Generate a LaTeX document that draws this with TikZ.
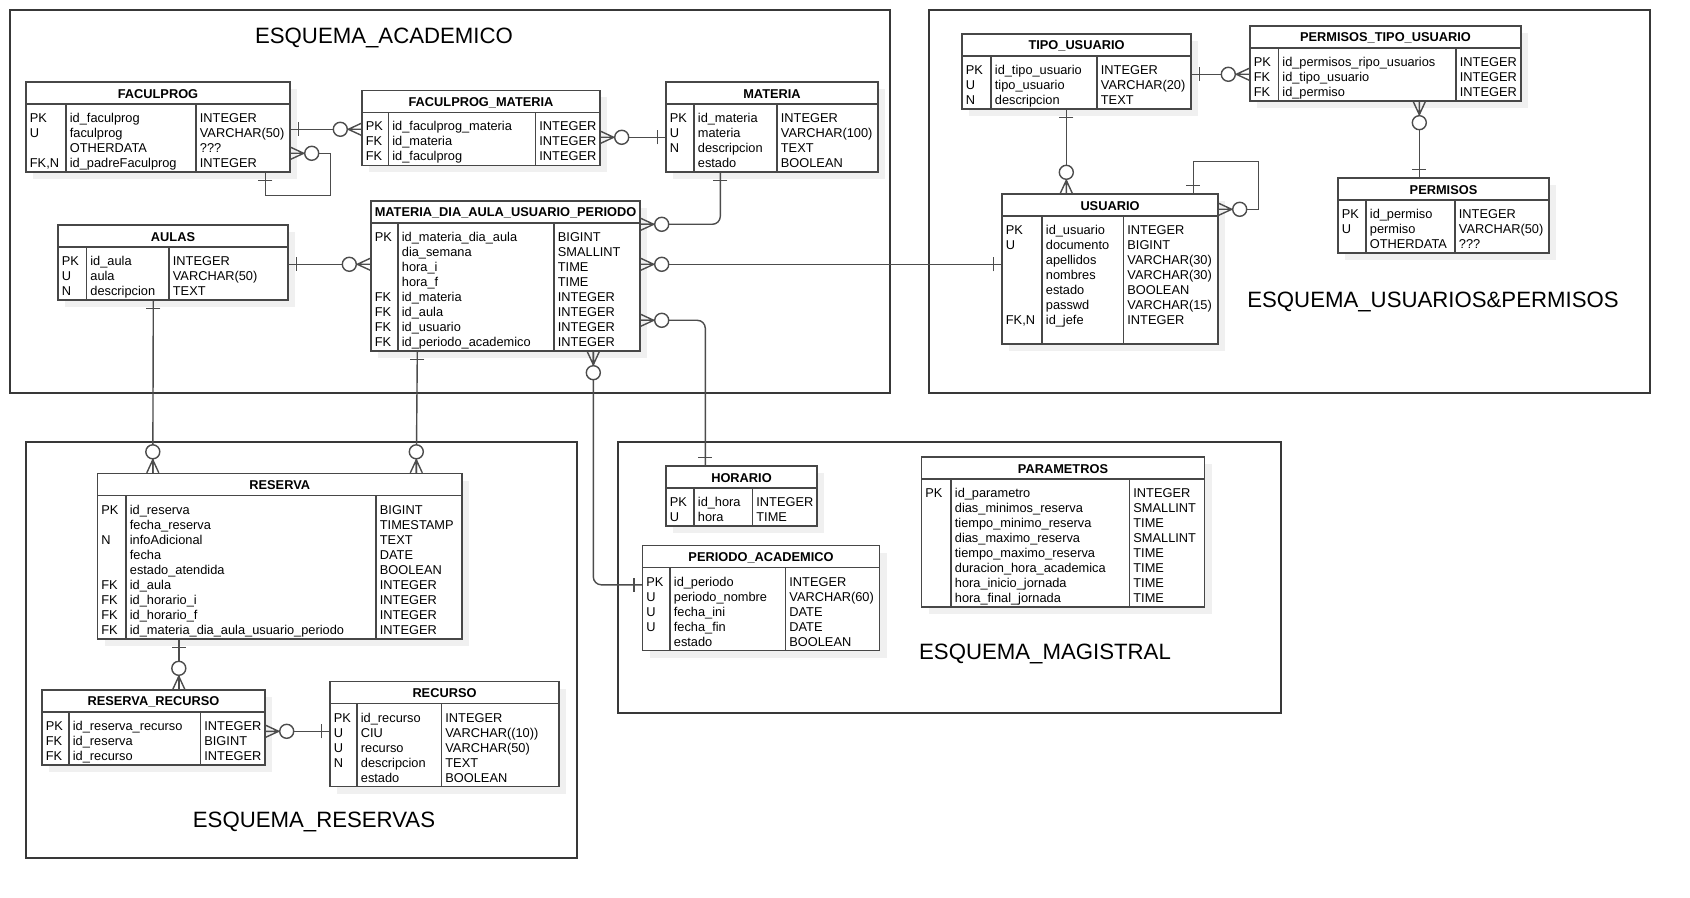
\documentclass[tikz,border=0pt]{standalone}
\usepackage{fontspec}
\setmainfont{Liberation Sans}
\usetikzlibrary{calc,fit}

\tikzset{
  ln/.style={draw=black!72, line width=0.7pt},
  conn/.style={draw=black!70, line width=0.7pt},
  frame/.style={draw=black!78, line width=0.65pt},
  cell/.style={anchor=base west, inner sep=0, font=\fontsize{6.4}{7.5}\selectfont},
  ttl/.style={inner sep=0, font=\fontsize{6.4}{7.5}\selectfont\bfseries},
  schema/.style={inner sep=0, font=\fontsize{11.1}{13}\selectfont},
}

% table: name, left, top, right, bottom, first column rule, second column rule, title
\newcommand\entity[8]{%
  \fill[black!6] (#2+7,#3+7) rectangle (#4+7,#5+7);
  \node[ln, fill=white, inner sep=0, fit={(#2,#3) (#4,#5)}] (#1) {};
  \draw[ln] (#2,#3+22) -- (#4,#3+22) (#6,#3+22) -- (#6,#5) (#7,#3+22) -- (#7,#5);
  \node[ttl] at ({(#2+#4)/2},#3+12) {#8};
}
% rows: left, first column rule, second column rule, top, list key/name/type
\newcommand\rows[5]{%
  \foreach \ka/\nm/\ty [count=\i from 0] in {#5} {
    \node[cell] at (#1+3.5, #4+40.5+\i*15) {\ka};
    \node[cell] at (#2+3.5, #4+40.5+\i*15) {\nm};
    \node[cell] at (#3+3.5, #4+40.5+\i*15) {\ty};
  }%
}
% crow's foot ends: point, outward angle
\newcommand\tone[2]{\draw[conn,shift={(#1)},rotate=#2] (8,-7) -- (8,7);}
\newcommand\tmany[2]{%
  \draw[conn,shift={(#1)},rotate=#2] (0,-6) -- (13,0) -- (0,6) (0,0) -- (13,0);
  \draw[conn,fill=white,shift={(#1)},rotate=#2] (21,0) circle[radius=7];}

\begin{document}
\begin{tikzpicture}[x=0.5pt,y=-0.5pt]
\useasboundingbox (0,0) rectangle (1690,898);

% schema frames
\draw[frame] (10,10) rectangle (890,393);
\draw[frame] (929,10) rectangle (1650,393);
\draw[frame] (26,442) rectangle (577,858);
\draw[frame] (618,442) rectangle (1281,713);
\node[schema] at (384,38) {ESQUEMA\_ACADEMICO};
\node[schema] at (1433,302) {ESQUEMA\_USUARIOS\&PERMISOS};
\node[schema] at (314,822) {ESQUEMA\_RESERVAS};
\node[schema] at (1045,654) {ESQUEMA\_MAGISTRAL};

% tables
\entity{fp}{26}{82}{290}{172}{66}{196}{FACULPROG}
\rows{26}{66}{196}{82}{PK/id\_faculprog/INTEGER, U/faculprog/VARCHAR(50), {}/OTHERDATA/???, {FK,N}/id\_padreFaculprog/INTEGER}

\entity{fpm}{362}{90.5}{600}{165.5}{388.5}{535.5}{FACULPROG\_MATERIA}
\rows{362}{388.5}{535.5}{90.5}{PK/id\_faculprog\_materia/INTEGER, FK/id\_materia/INTEGER, FK/id\_faculprog/INTEGER}

\entity{mat}{666}{82}{878}{172}{694}{777}{MATERIA}
\rows{666}{694}{777}{82}{PK/id\_materia/INTEGER, U/materia/VARCHAR(100), N/descripcion/TEXT, {}/estado/BOOLEAN}

\entity{au}{58}{225}{288}{300}{86.5}{169}{AULAS}
\rows{58}{86.5}{169}{225}{PK/id\_aula/INTEGER, U/aula/VARCHAR(50), N/descripcion/TEXT}

\entity{md}{371}{201}{640}{351}{398}{554}{MATERIA\_DIA\_AULA\_USUARIO\_PERIODO}
\rows{371}{398}{554}{201}{PK/id\_materia\_dia\_aula/BIGINT, {}/dia\_semana/SMALLINT, {}/hora\_i/TIME, {}/hora\_f/TIME, FK/id\_materia/INTEGER, FK/id\_aula/INTEGER, FK/id\_usuario/INTEGER, FK/id\_periodo\_academico/INTEGER}

\entity{tu}{962}{34}{1191}{109}{991}{1097}{TIPO\_USUARIO}
\rows{962}{991}{1097}{34}{PK/id\_tipo\_usuario/INTEGER, U/tipo\_usuario/VARCHAR(20), N/descripcion/TEXT}

\entity{ptu}{1250}{26}{1521}{101}{1278.5}{1456}{PERMISOS\_TIPO\_USUARIO}
\rows{1250}{1278.5}{1456}{26}{PK/id\_permisos\_ripo\_usuarios/INTEGER, FK/id\_tipo\_usuario/INTEGER, FK/id\_permiso/INTEGER}

\entity{perm}{1338}{178}{1549}{253}{1366}{1455}{PERMISOS}
\rows{1338}{1366}{1455}{178}{PK/id\_permiso/INTEGER, U/permiso/VARCHAR(50), {}/OTHERDATA/???}

\entity{usu}{1002}{194}{1218}{344}{1042}{1123.5}{USUARIO}
\rows{1002}{1042}{1123.5}{194}{PK/id\_usuario/INTEGER, U/documento/BIGINT, {}/apellidos/VARCHAR(30), {}/nombres/VARCHAR(30), {}/estado/BOOLEAN, {}/passwd/VARCHAR(15), {FK,N}/id\_jefe/INTEGER}

\entity{res}{97.5}{473.5}{462}{639}{126}{376}{RESERVA}
\rows{97.5}{126}{376}{473.5}{PK/id\_reserva/BIGINT, {}/fecha\_reserva/TIMESTAMP, N/infoAdicional/TEXT, {}/fecha/DATE, {}/estado\_atendida/BOOLEAN, FK/id\_aula/INTEGER, FK/id\_horario\_i/INTEGER, FK/id\_horario\_f/INTEGER, FK/id\_materia\_dia\_aula\_usuario\_periodo/INTEGER}

\entity{rr}{42}{690}{265}{765}{69}{200.5}{RESERVA\_RECURSO}
\rows{42}{69}{200.5}{690}{PK/id\_reserva\_recurso/INTEGER, FK/id\_reserva/BIGINT, FK/id\_recurso/INTEGER}

\entity{rec}{330}{681.5}{559}{786.5}{357}{441.5}{RECURSO}
\rows{330}{357}{441.5}{681.5}{PK/id\_recurso/INTEGER, U/CIU/VARCHAR((10)), U/recurso/VARCHAR(50), N/descripcion/TEXT, {}/estado/BOOLEAN}

\entity{hor}{666}{466}{817}{526}{694}{752.5}{HORARIO}
\rows{666}{694}{752.5}{466}{PK/id\_hora/INTEGER, U/hora/TIME}

\entity{per}{642.5}{545.5}{879.5}{650.5}{670}{785.5}{PERIODO\_ACADEMICO}
\rows{642.5}{670}{785.5}{545.5}{PK/id\_periodo/INTEGER, U/periodo\_nombre/VARCHAR(60), U/fecha\_ini/DATE, U/fecha\_fin/DATE, {}/estado/BOOLEAN}

\entity{par}{921.5}{457}{1204.5}{607}{951}{1129.5}{PARAMETROS}
\rows{921.5}{951}{1129.5}{457}{PK/id\_parametro/INTEGER, {}/dias\_minimos\_reserva/SMALLINT, {}/tiempo\_minimo\_reserva/TIME, {}/dias\_maximo\_reserva/SMALLINT, {}/tiempo\_maximo\_reserva/TIME, {}/duracion\_hora\_academica/TIME, {}/hora\_inicio\_jornada/TIME, {}/hora\_final\_jornada/TIME}

% attachment points
\coordinate (a1) at ($(fp.north east)+(0,48)$);
\coordinate (a2) at ($(fpm.north west)+(0,39.5)$);
\coordinate (b1) at ($(fp.north east)+(0,72)$);
\coordinate (b2) at ($(fp.south west)+(240,0)$);
\coordinate (c1) at ($(fpm.north east)+(0,47.5)$);
\coordinate (c2) at ($(mat.north west)+(0,56)$);
\coordinate (d1) at ($(mat.south west)+(55,0)$);
\coordinate (d2) at ($(md.north east)+(0,24)$);
\coordinate (e1) at ($(md.north east)+(0,64)$);
\coordinate (e2) at ($(usu.north west)+(0,71)$);
\coordinate (f1) at ($(md.north east)+(0,120)$);
\coordinate (f2) at ($(hor.north west)+(40,0)$);
\coordinate (g1) at ($(md.south west)+(223,0)$);
\coordinate (g2) at ($(per.north west)+(0,40)$);
\coordinate (h1) at ($(au.north east)+(0,40)$);
\coordinate (h2) at ($(md.north west)+(0,64)$);
\coordinate (i1) at ($(au.south west)+(96,0)$);
\coordinate (i2) at ($(res.north west)+(56,0)$);
\coordinate (j1) at ($(md.south west)+(47,0)$);
\coordinate (j2) at ($(res.north west)+(319.5,0)$);
\coordinate (k1) at ($(res.south west)+(82,0)$);
\coordinate (k2) at ($(rr.north west)+(137.5,0)$);
\coordinate (l1) at ($(rr.north east)+(0,42)$);
\coordinate (l2) at ($(rec.north west)+(0,50.5)$);
\coordinate (m1) at ($(tu.north east)+(0,41)$);
\coordinate (m2) at ($(ptu.north west)+(0,49)$);
\coordinate (n1) at ($(tu.south west)+(105,0)$);
\coordinate (n2) at ($(usu.north west)+(65,0)$);
\coordinate (o1) at ($(ptu.south west)+(170,0)$);
\coordinate (o2) at ($(perm.north west)+(82,0)$);
\coordinate (p1) at ($(usu.north east)+(0,16)$);
\coordinate (p2) at ($(usu.north west)+(192,0)$);

% relationships
\draw[conn] (a1) -- (a2);
\draw[conn] (b1) -- ++(40,0) |- ($(b2)+(0,23)$) -- (b2);
\draw[conn] (c1) -- (c2);
\draw[conn, rounded corners=4pt] (d2) -| (d1);
\draw[conn] (e1) -- (e2);
\draw[conn, rounded corners=4pt] (f1) -| (f2);
\draw[conn, rounded corners=4pt] (g1) |- (g2);
\draw[conn] (h1) -- (h2);
\draw[conn] (i1) -- (i2);
\draw[conn] (j1) -- (j2);
\draw[conn] (k1) -- (k2);
\draw[conn] (l1) -- (l2);
\draw[conn] (m1) -- (m2);
\draw[conn] (n1) -- (n2);
\draw[conn] (o1) -- (o2);
\draw[conn] (p1) -- ++(40,0) |- ($(p2)+(0,-32)$) -- (p2);

% end markers
\tone{a1}{0}    \tmany{a2}{180}
\tmany{b1}{0}   \tone{b2}{-90}
\tmany{c1}{0}   \tone{c2}{180}
\tone{d1}{-90}  \tmany{d2}{0}
\tmany{e1}{0}   \tone{e2}{180}
\tmany{f1}{0}   \tone{f2}{90}
\tmany{g1}{-90} \tone{g2}{180}
\tone{h1}{0}    \tmany{h2}{180}
\tone{i1}{-90}  \tmany{i2}{90}
\tone{j1}{-90}  \tmany{j2}{90}
\tone{k1}{-90}  \tmany{k2}{90}
\tmany{l1}{0}   \tone{l2}{180}
\tone{m1}{0}    \tmany{m2}{180}
\tone{n1}{-90}  \tmany{n2}{90}
\tmany{o1}{-90} \tone{o2}{90}
\tmany{p1}{0}   \tone{p2}{90}
\end{tikzpicture}
\end{document}
